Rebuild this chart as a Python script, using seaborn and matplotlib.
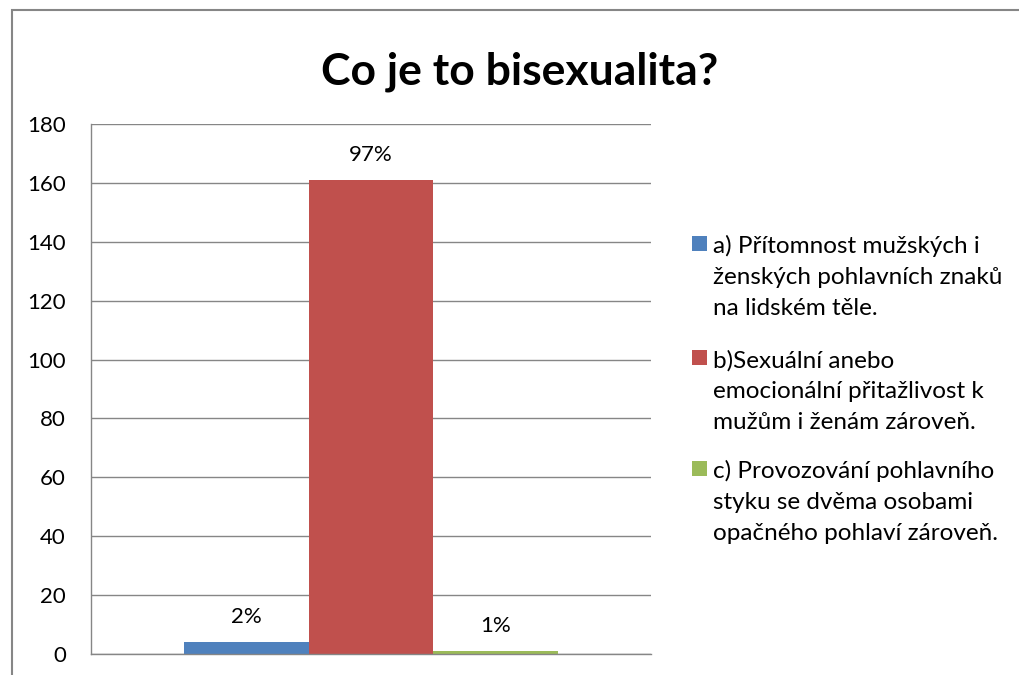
import seaborn as sns
import matplotlib.pyplot as plt
import pandas as pd
from matplotlib.patches import Rectangle

# data
answers = [
    "a) Přítomnost mužských i\nženských pohlavních znaků\nna lidském těle.",
    "b)Sexuální anebo\nemocionální přitažlivost k\nmužům i ženám zároveň.",
    "c) Provozování pohlavního\nstyku se dvěma osobami\nopačného pohlaví zároveň.",
]
counts = [4, 161, 1]
pct_labels = ["2%", "97%", "1%"]
colors = ["#4F81BD", "#C0504D", "#9BBB59"]
y_ticks = list(range(0, 181, 20))

df = pd.DataFrame({"q": [""] * 3, "Odpověď": answers, "Počet": counts})

sns.set_style("white")
plt.rcParams["font.family"] = ["Lato", "DejaVu Sans"]
plt.rcParams["text.color"] = "black"
plt.rcParams["ytick.color"] = "black"

W, H = 1019, 675
fig = plt.figure(figsize=(W / 100, H / 100), dpi=100)
ax = fig.add_axes([91 / W, 21 / H, 560 / W, 530 / H])

sns.barplot(data=df, x="q", y="Počet", hue="Odpověď", palette=colors,
            width=0.668, ax=ax, saturation=1, legend=False, linewidth=0)

for cont, lab in zip(ax.containers, pct_labels):
    ax.bar_label(cont, labels=[lab], padding=11, fontsize=16, color="black")

ax.set_ylim(0, 180)
ax.set_yticks(y_ticks)
ax.tick_params(axis="y", labelsize=16, length=0, pad=18, labelcolor="black")
ax.tick_params(axis="x", length=0)
ax.set_xticklabels([])
ax.set_xlabel("")
ax.set_ylabel("")
ax.grid(axis="y", color="#868686", linewidth=1)
ax.set_axisbelow(True)
for s in ["top", "right"]:
    ax.spines[s].set_visible(False)
for s in ["left", "bottom"]:
    ax.spines[s].set_color("#868686")
    ax.spines[s].set_linewidth(1)

fig.suptitle("Co je to bisexualita?", x=0.51, y=1 - 72 / H, va="center",
             fontsize=32, fontweight="bold", color="black")

# legend: square + wrapped text, first line aligned with the square
entry_baselines = [251, 365, 476]
pitch = 32
for lab, col, yb in zip(answers, colors, entry_baselines):
    fig.patches.append(Rectangle((692 / W, 1 - (yb - 0.5) / H), 15 / W, 15 / H,
                                 transform=fig.transFigure, facecolor=col,
                                 edgecolor="none"))
    n = lab.count("\n")
    fig.text(713 / W, 1 - (yb + n * pitch) / H, lab, fontsize=17.5,
             va="baseline", ha="left", linespacing=1.58, color="black")

# outer chart frame
fig.patches.append(Rectangle((12 / W, -0.05), 1.1, 1 - 10 / H + 0.05,
                             transform=fig.transFigure, fill=False,
                             edgecolor="#868686", linewidth=1.5))

fig.savefig("out.png", dpi=100)
